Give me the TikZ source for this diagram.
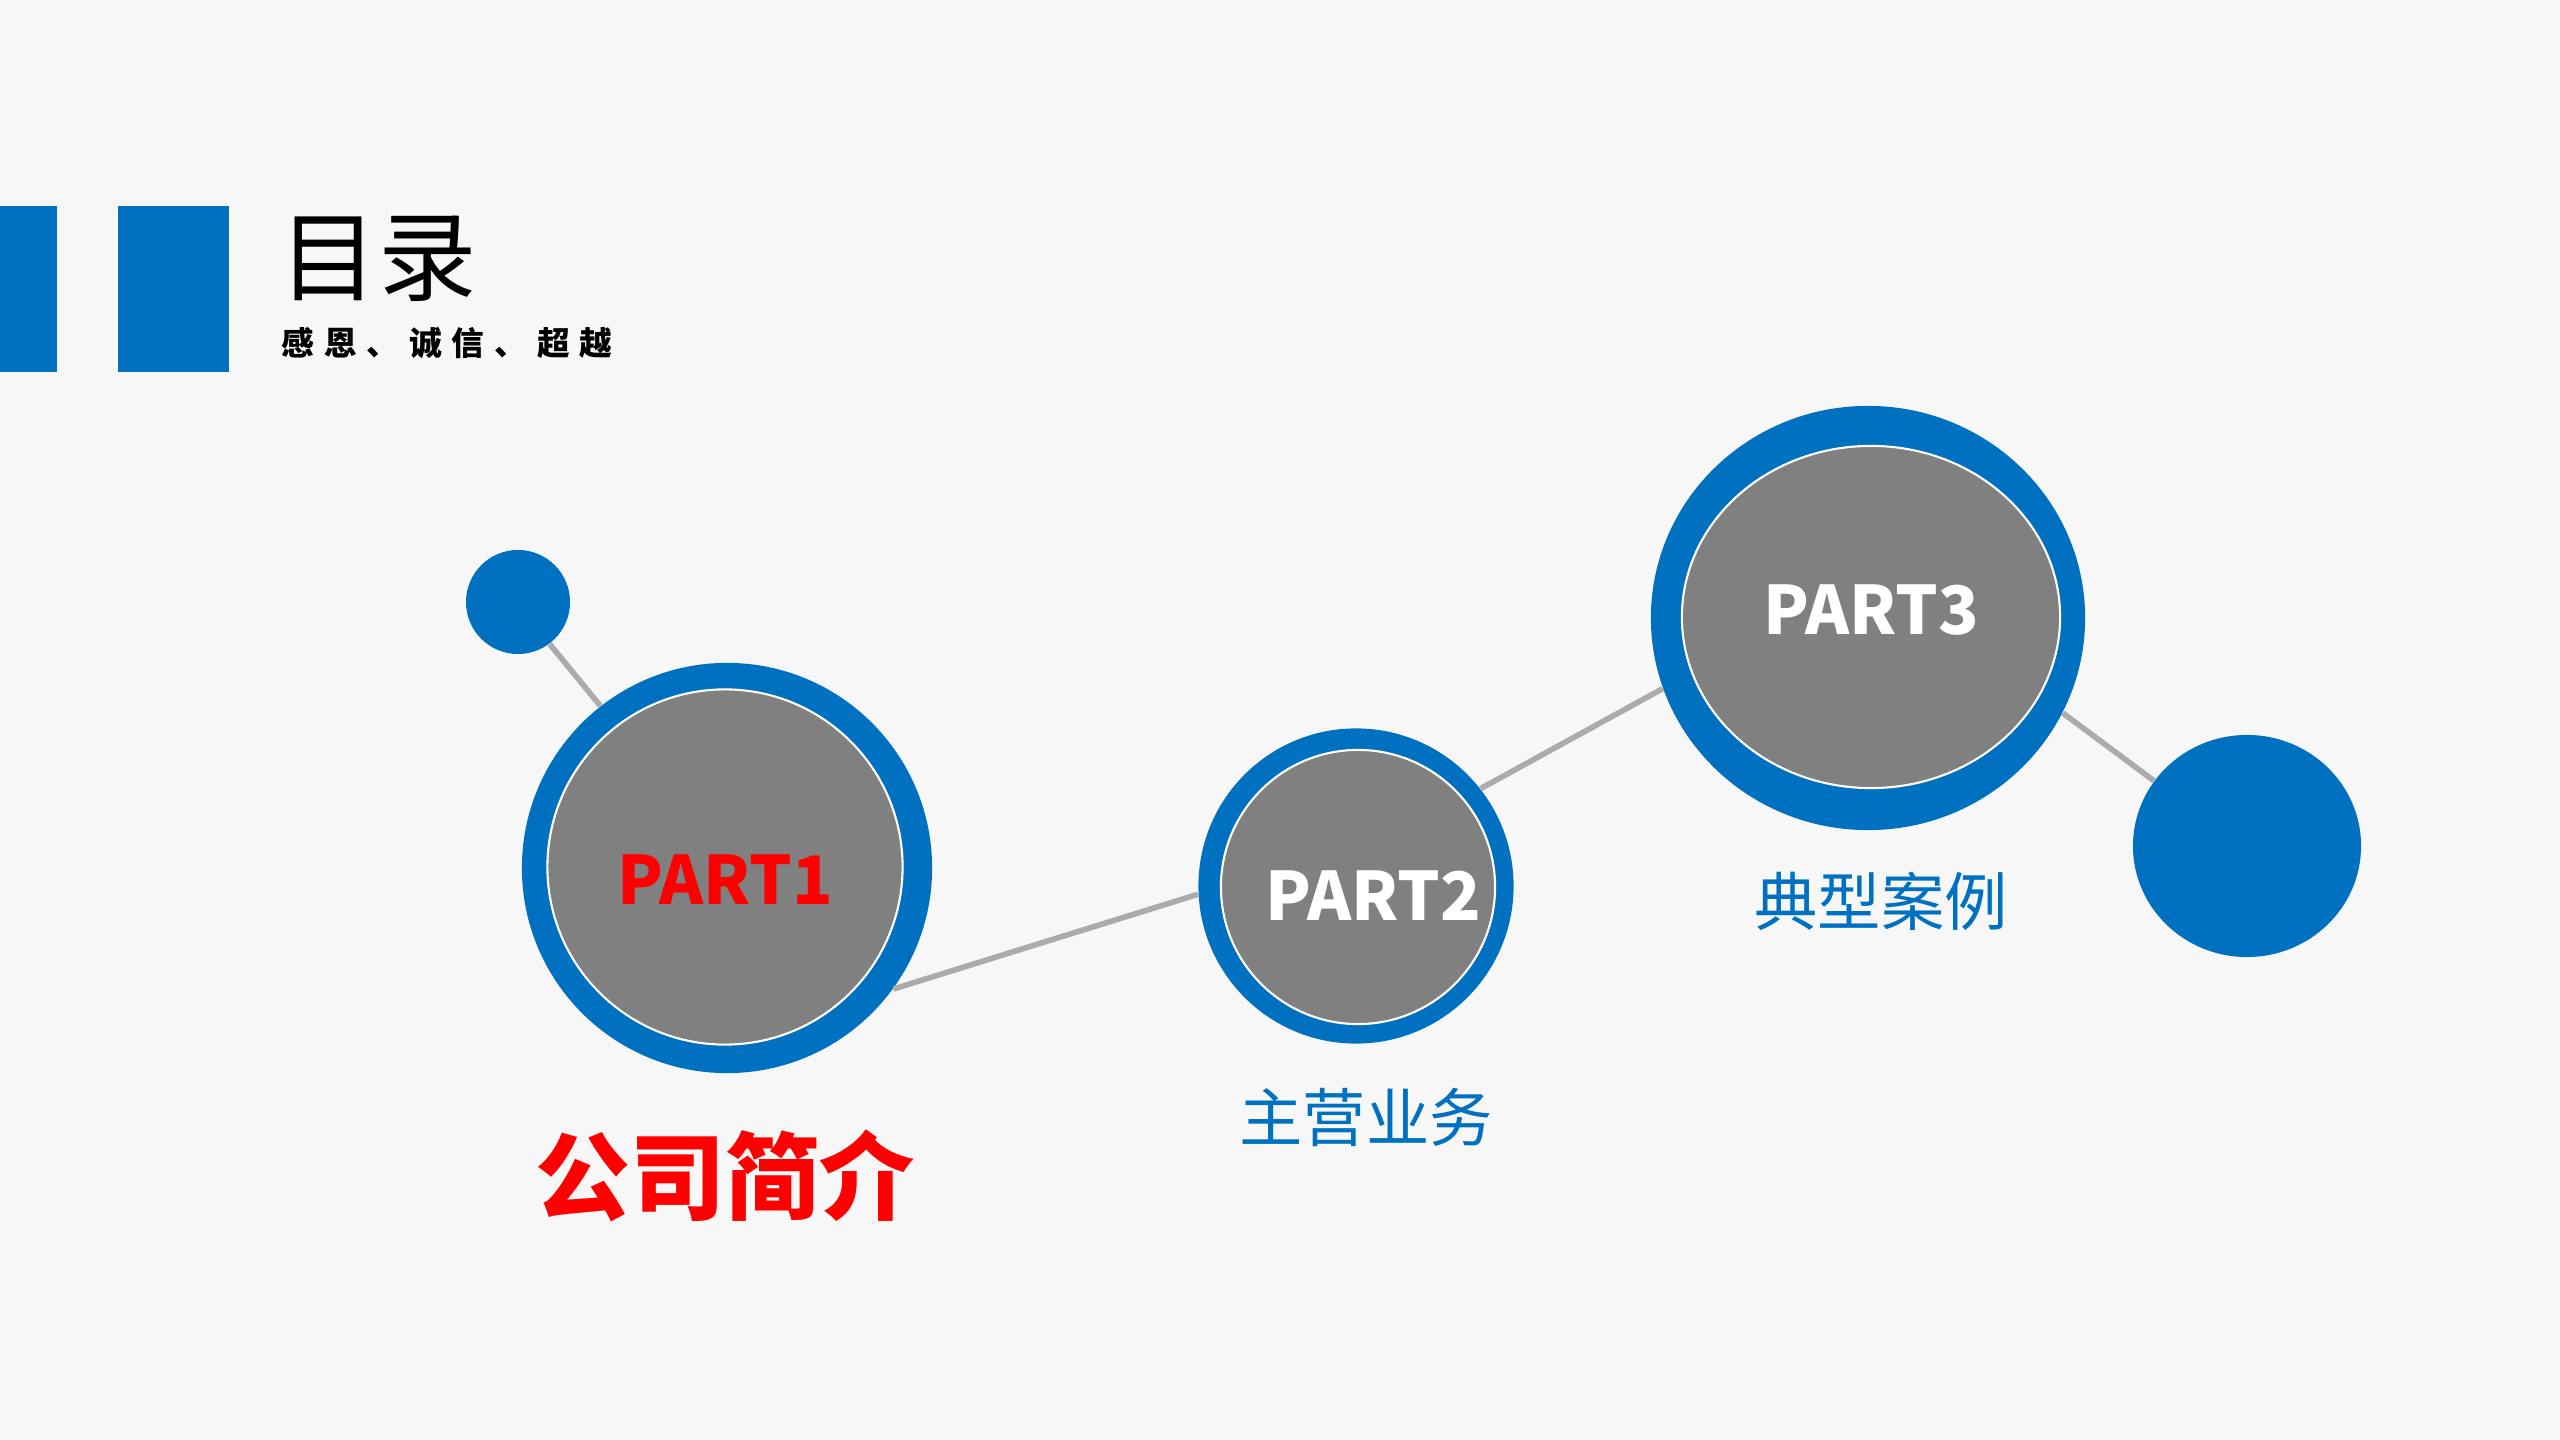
\documentclass[tikz,border=0pt]{standalone}
\usepackage{fontspec}
\setmainfont{Noto Sans CJK SC}
\usepackage[]{xcolor}
\usetikzlibrary{shapes.geometric}

\definecolor{partblue}{HTML}{0070C0}
\definecolor{partgray}{HTML}{808080}
\definecolor{linkgray}{HTML}{ABABAB}
\definecolor{pagebg}{HTML}{F7F7F7}

\begin{document}
\begin{tikzpicture}[x=0.01cm, y=-0.01cm,
    ring/.style={circle, fill=partblue, inner sep=0pt},
    core/.style={circle, fill=partgray, draw=white, line width=0.6pt, inner sep=0pt, text=white, font=\fontsize{19}{19}\selectfont\bfseries},
    dot/.style={circle, fill=partblue, inner sep=0pt},
    link/.style={draw=linkgray, line width=1.6pt},
    caption/.style={text=partblue, font=\fontsize{18}{18}\selectfont}]
        \fill[pagebg] (0, 0) rectangle (2560, 1440);
        \useasboundingbox (0, 0) rectangle (2560, 1440);

        % header
        \fill[partblue] (0, 206) rectangle (57, 372);
        \fill[partblue] (118, 206) rectangle (229, 372);
        \node[anchor=west, inner sep=0pt, font=\fontsize{28}{28}\selectfont] (title) at (279, 259) {目录};
        \node[anchor=west, inner sep=0pt, font=\fontsize{9.3}{9.3}\selectfont\bfseries] (motto) at (281, 343)
          {感\hspace{2.8pt}恩\hspace{2.8pt}、\hspace{2.8pt}诚\hspace{2.8pt}信\hspace{2.8pt}、\hspace{2.8pt}超\hspace{2.8pt}越};

        % circles
        \node[dot, minimum size=1.04cm] (d1) at (518, 602) {};
        \node[ring, minimum size=4.10cm] (p1ring) at (727, 868) {};
        \node[core, minimum size=3.55cm, text=red, text height=0.74cm, text depth=0cm] (p1) at (725, 867) {PART1};
        \node[ring, minimum size=3.15cm] (p2ring) at (1356, 886) {};
        \node[core, minimum size=2.74cm, text height=0.66cm, text depth=0cm] (p2) at (1358, 887) {\hspace*{0.3cm}PART2};
        \node[ring, ellipse, minimum width=4.34cm, minimum height=4.24cm] (p3ring) at (1868, 618) {};
        \node[core, ellipse, minimum width=3.78cm, minimum height=3.42cm, text height=0.48cm, text depth=0.14cm] (p3) at (1871, 617) {PART3};
        \node[dot, ellipse, minimum width=2.28cm, minimum height=2.22cm] (d2) at (2247, 846) {};

        \draw[link] (d1.-53) -- (p1ring.128);
        \draw[link] (p1ring.-36) -- (p2ring.183);
        \draw[link] (p2ring.38) -- (p3ring.199);
        \draw[link] (p3ring.-26) -- (d2.145);

        % captions
        \node[text=red, font=\fontsize{27}{27}\selectfont\bfseries] (p1cap) at (725, 1176) {公司简介};
        \node[caption] (p2cap) at (1366, 1118) {主营业务};
        \node[caption] (p3cap) at (1881, 901) {典型案例};
      \end{tikzpicture}
\end{document}
